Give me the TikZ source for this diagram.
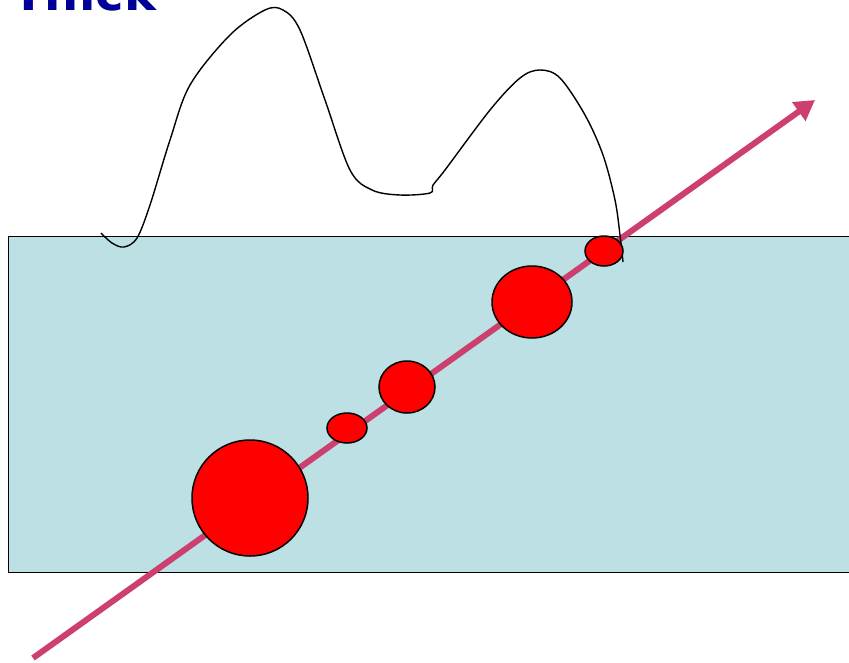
\documentclass[tikz,border=0pt]{standalone}
\usepackage{fontspec}
\newfontfamily\titlefont{DejaVu Sans}
\usetikzlibrary{arrows.meta,shapes.geometric}
\definecolor{slab}{HTML}{BCE0E3}
\definecolor{track}{HTML}{CC3F6E}
\definecolor{titleblue}{HTML}{000099}
\tikzset{
  blob/.style={draw=black, line width=1.5pt, fill=red, ellipse, inner sep=0pt},
  trackline/.style={draw=track, line width=6pt, -{Triangle[length=20pt,width=22pt]}},
}
\begin{document}
\begin{tikzpicture}[x=1pt,y=-1pt]
\useasboundingbox (0,0) rectangle (849,662);
\clip (0,0) rectangle (849,662);
\node[anchor=base west, inner sep=0pt, text=titleblue, font=\titlefont\bfseries\fontsize{48}{52}\selectfont] (title) at (12,10) {Thick};
\node[draw=black, line width=1.2pt, fill=slab, minimum width=860pt, minimum height=336pt, anchor=north west, inner sep=0pt] (slab) at (8,236) {};
\coordinate (start) at (33,658);
\coordinate (end) at (815,100);
\draw[trackline] (start) -- (end);
\draw[black, line width=1.4pt] plot[smooth, tension=0.55] coordinates {(101,233) (112,243) (124,247) (137,238) (150,205) (170,140) (190,85) (230,35) (265,10) (283,10) (300,30) (325,100) (350,170) (372,190) (400,195) (430,193) (433,185) (445,170) (490,110) (520,78) (540,70) (560,78) (585,115) (603,155) (615,200) (620,235) (623,262)};
\node[blob, minimum width=116pt, minimum height=116pt] (b1) at (250,498) {};
\node[blob, minimum width=40pt, minimum height=30pt] (b2) at (347,428) {};
\node[blob, minimum width=56pt, minimum height=52pt] (b3) at (407,387) {};
\node[blob, minimum width=80pt, minimum height=72pt] (b4) at (532,302) {};
\node[blob, minimum width=38pt, minimum height=30pt] (b5) at (604,251) {};
\end{tikzpicture}
\end{document}
